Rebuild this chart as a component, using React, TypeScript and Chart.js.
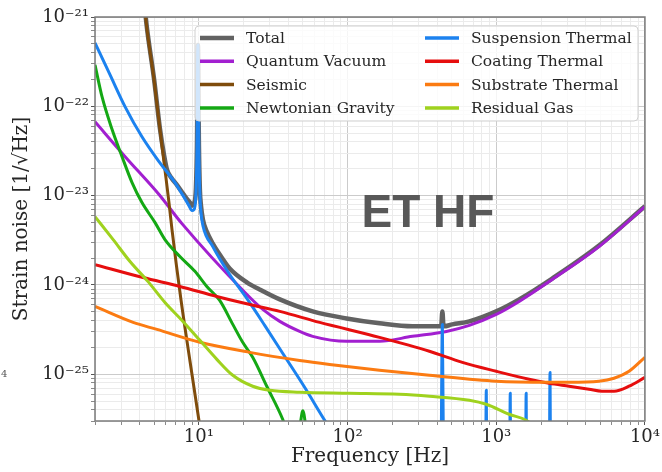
import React, { useEffect, useRef } from 'react';
import { Chart, registerables } from 'chart.js';

Chart.register(...registerables);

// ---------- data (frequency in Hz, strain noise in 1/sqrt(Hz)) ----------
const X_MIN = 2;
const X_MAX = 1e4;
const Y_MIN = 3e-26;
const Y_MAX = 1e-21;

const totalFreq = [4.21, 4.48, 4.99, 5.47, 5.82, 6.10, 6.59, 7.01, 7.57, 8.18, 8.71, 8.98, 9.26, 9.55, 9.70, 9.85, 10.0, 10.15, 10.31, 10.64, 11.3, 12.4, 13.8, 16.1, 21.0, 25.6, 35.0, 58.2, 98.5, 164, 273, 426, 434, 442, 507, 659, 1000, 1426, 2377, 4911, 10000];
const totalNoise = [1.9e-21, 7.34e-22, 2.03e-22, 5.61e-23, 2.87e-23, 1.95e-23, 1.55e-23, 1.36e-23, 1.14e-23, 9.50e-24, 8.36e-24, 7.73e-24, 8.14e-24, 1.23e-23, 3.71e-23, 4.87e-22, 3.71e-23, 1.17e-23, 7.93e-24, 5.39e-24, 3.96e-24, 2.91e-24, 2.19e-24, 1.53e-24, 1.07e-24, 8.91e-25, 6.89e-25, 5.06e-25, 4.22e-25, 3.72e-25, 3.44e-25, 3.44e-25, 5.06e-25, 3.44e-25, 3.62e-25, 3.91e-25, 5.06e-25, 6.89e-25, 1.18e-24, 2.76e-24, 7.6e-24];

const quantumFreq = [2.00, 3.19, 5.39, 7.69, 20.4, 26.9, 35.0, 47.6, 58.2, 98.5, 164, 273, 462, 659, 1000, 1426, 2377, 4911, 10000];
const quantumNoise = [6.71e-23, 2.73e-23, 1.03e-23, 4.86e-24, 8.24e-25, 5.32e-25, 3.91e-25, 3.02e-25, 2.66e-25, 2.34e-25, 2.34e-25, 2.66e-25, 3.02e-25, 3.53e-25, 4.68e-25, 6.54e-25, 1.15e-24, 2.69e-24, 7.53e-24];

const seismicFreq = [4.21, 4.48, 4.99, 5.47, 5.91, 6.29, 6.59, 7.57, 8.71, 10.0, 10.64];
const seismicNoise = [1.9e-21, 7.16e-22, 1.98e-22, 5.46e-23, 1.95e-23, 8.36e-24, 4.17e-24, 6.89e-25, 1.40e-25, 3.06e-26, 1.61e-26];

const newtonFreq = [2.00, 2.23, 2.61, 3.04, 3.55, 4.14, 5.07, 5.91, 7.45, 9.40, 11.3, 13.8, 16.9, 19.7, 23.0, 28.6, 36.6, 42.1, 47.5, 50.0, 52.5, 60.0];
const newtonNoise = [2.91e-22, 1.28e-22, 5.46e-23, 2.73e-23, 1.40e-23, 8.36e-24, 4.99e-24, 3.22e-24, 2.08e-24, 1.42e-24, 9.62e-25, 6.71e-25, 3.62e-25, 2.28e-25, 1.55e-25, 7.35e-26, 3.14e-26, 1.65e-26, 2.5e-26, 3.9e-26, 2.5e-26, 5e-27];

const suspFreq = [2.00, 2.49, 3.19, 4.14, 5.39, 6.90, 8.57, 8.98, 9.26, 9.55, 9.70, 9.85, 10.0, 10.15, 10.31, 10.64, 12.4, 16.1, 21.0, 27.7, 36.6, 51.4, 70.1, 95.5, 420, 434, 448, 840, 857, 875, 1220, 1242, 1265, 1560, 1589, 1620, 2250, 2300, 2350, 10000];
const suspNoise = [5.12e-22, 2.37e-22, 9.87e-23, 4.56e-23, 2.40e-23, 1.40e-23, 7.73e-24, 6.80e-24, 6.98e-24, 1.03e-23, 3.27e-23, 4.87e-22, 3.27e-23, 1.03e-23, 6.62e-24, 4.62e-24, 2.69e-24, 1.31e-24, 7.07e-25, 3.53e-25, 1.72e-25, 7.16e-26, 3.06e-26, 1.38e-26, 8e-28, 3.62e-25, 8e-28, 3e-28, 6.62e-26, 3e-28, 2e-28, 6.14e-26, 2e-28, 1.5e-28, 6.14e-26, 1.5e-28, 1e-28, 1.05e-25, 1e-28, 1e-29];

const coatingFreq = [2.00, 4.21, 7.45, 13.2, 22.0, 35.0, 64.9, 164, 355, 592, 1000, 1663, 2270, 3090, 4207, 5140, 6196, 7818, 10000];
const coatingNoise = [1.69e-24, 1.21e-24, 9.62e-25, 7.44e-25, 6.05e-25, 5.06e-25, 3.81e-25, 2.59e-25, 1.81e-25, 1.36e-25, 1.08e-25, 8.79e-26, 7.93e-26, 7.35e-26, 6.80e-26, 6.46e-26, 6.46e-26, 7.35e-26, 9.25e-26];

const substrateFreq = [2.00, 3.61, 5.22, 10.15, 22.0, 47.6, 75.7, 164, 355, 1000, 2270, 3090, 4911, 6196, 7818, 10000];
const substrateNoise = [5.75e-25, 3.81e-25, 3.18e-25, 2.28e-25, 1.76e-25, 1.43e-25, 1.29e-25, 1.11e-25, 9.75e-26, 8.35e-26, 8.14e-26, 8.14e-26, 8.35e-26, 9.02e-26, 1.08e-25, 1.55e-25];

const gasFreq = [2.00, 2.65, 3.44, 4.55, 5.91, 7.81, 10.15, 13.2, 16.9, 23.0, 30.0, 47.6, 103, 223, 355, 659, 857, 1222, 1589, 2099];
const gasNoise = [5.82e-24, 3.22e-24, 1.83e-24, 1.09e-24, 6.37e-25, 3.91e-25, 2.40e-25, 1.47e-25, 9.75e-26, 7.35e-26, 6.62e-26, 6.30e-26, 6.14e-26, 5.98e-26, 5.68e-26, 5.12e-26, 4.62e-26, 3.57e-26, 3.06e-26, 2.14e-26];

const seriesNames = ['Total', 'Quantum Vacuum', 'Seismic', 'Newtonian Gravity', 'Suspension Thermal', 'Coating Thermal', 'Substrate Thermal', 'Residual Gas'];
const seriesColors = ['#626262', '#a21fd0', '#7f4c0c', '#14a814', '#1c82ef', '#e60e0e', '#fb7b12', '#9fd21e'];
const seriesWidths = [4.5, 3, 3, 3, 3, 3, 3, 3];
const seriesFreqs = [totalFreq, quantumFreq, seismicFreq, newtonFreq, suspFreq, coatingFreq, substrateFreq, gasFreq];
const seriesValues = [totalNoise, quantumNoise, seismicNoise, newtonNoise, suspNoise, coatingNoise, substrateNoise, gasNoise];

const xTitle = 'Frequency [Hz]';
const yTitle = 'Strain noise [1/\u221AHz]';
const annotationText = 'ET HF';
const annotationFreq = 124;
const annotationNoise = 4.5e-24;

// ---------- helpers ----------
const SUP: Record<string, string> = {
  '-': '\u207B', '0': '\u2070', '1': '\u00B9', '2': '\u00B2', '3': '\u00B3',
  '4': '\u2074', '5': '\u2075', '6': '\u2076', '7': '\u2077', '8': '\u2078', '9': '\u2079',
};
const sup = (n: number) => String(n).split('').map((c) => SUP[c] || c).join('');

function buildLogTicks(scale: any) {
  const min = scale.min;
  const max = scale.max;
  const ticks: any[] = [];
  const d0 = Math.floor(Math.log10(min));
  const d1 = Math.ceil(Math.log10(max));
  for (let d = d0; d <= d1; d++) {
    for (let m = 1; m <= 9; m++) {
      const v = m * Math.pow(10, d);
      if (v >= min * 0.9999 && v <= max * 1.0001) ticks.push({ value: v, major: m === 1 });
    }
  }
  scale.ticks = ticks;
}

const tickLabel = (value: any, index: number, ticks: any[]) => {
  const t = ticks[index];
  if (!t || !t.major) return '';
  return '10' + sup(Math.round(Math.log10(Number(value))));
};

const gridColor = (ctx: any) => (ctx.tick && ctx.tick.major ? '#cbcbcb' : '#ebebeb');
const tickColor = (ctx: any) => (ctx.tick && ctx.tick.major ? '#555555' : '#8a8a8a');

const SERIF = '"DejaVu Serif", "Liberation Serif", serif';

const overlayPlugin = {
  id: 'overlay',
  afterDatasetsDraw(chart: any) {
    const { ctx, chartArea: a, scales } = chart;
    ctx.save();
    // frame
    ctx.strokeStyle = '#7a7a7a';
    ctx.lineWidth = 1.5;
    ctx.strokeRect(a.left, a.top, a.right - a.left, a.bottom - a.top);

    // annotation
    const ax = scales.x.getPixelForValue(annotationFreq);
    const ay = scales.y.getPixelForValue(annotationNoise);
    ctx.fillStyle = '#585858';
    ctx.font = 'bold 46px "Liberation Sans", Arial, sans-serif';
    ctx.textAlign = 'left';
    ctx.textBaseline = 'alphabetic';
    ctx.fillText(annotationText, ax, ay);

    // legend
    const lx = a.left + 100;
    const ly = a.top + 9;
    const lw = 443;
    const lh = 95;
    const r = 4;
    ctx.beginPath();
    ctx.moveTo(lx + r, ly);
    ctx.lineTo(lx + lw - r, ly);
    ctx.arcTo(lx + lw, ly, lx + lw, ly + r, r);
    ctx.lineTo(lx + lw, ly + lh - r);
    ctx.arcTo(lx + lw, ly + lh, lx + lw - r, ly + lh, r);
    ctx.lineTo(lx + r, ly + lh);
    ctx.arcTo(lx, ly + lh, lx, ly + lh - r, r);
    ctx.lineTo(lx, ly + r);
    ctx.arcTo(lx, ly, lx + r, ly, r);
    ctx.closePath();
    ctx.fillStyle = 'rgba(255,255,255,0.8)';
    ctx.fill();
    ctx.strokeStyle = '#d0d0d0';
    ctx.lineWidth = 1;
    ctx.stroke();

    ctx.font = '15.5px ' + SERIF;
    ctx.textBaseline = 'middle';
    ctx.textAlign = 'left';
    ctx.lineCap = 'butt';
    const colX = [lx + 5, lx + 230];
    for (let i = 0; i < seriesNames.length; i++) {
      const col = Math.floor(i / 4);
      const row = i % 4;
      const x = colX[col];
      const y = ly + 12 + row * 23.3;
      ctx.strokeStyle = seriesColors[i];
      ctx.lineWidth = i === 0 ? 4.5 : 3.5;
      ctx.beginPath();
      ctx.moveTo(x, y);
      ctx.lineTo(x + 34, y);
      ctx.stroke();
      ctx.fillStyle = '#262626';
      ctx.fillText(seriesNames[i], x + 46, y + 1);
    }

    // clipped stray label at the far left edge
    ctx.fillStyle = '#555555';
    ctx.font = '10px ' + SERIF;
    ctx.textAlign = 'left';
    ctx.textBaseline = 'alphabetic';
    ctx.fillText('4', 1, scales.y.getPixelForValue(1e-25) + 3);
    ctx.restore();
  },
};

export default function App() {
  const canvasRef = useRef<HTMLCanvasElement | null>(null);

  useEffect(() => {
    const canvas = canvasRef.current;
    if (!canvas) return;
    const datasets = seriesNames.map((name, i) => ({
      label: name,
      data: seriesFreqs[i].map((f, k) => ({ x: f, y: seriesValues[i][k] })),
      borderColor: seriesColors[i],
      backgroundColor: seriesColors[i],
      borderWidth: seriesWidths[i],
      pointRadius: 0,
      pointHoverRadius: 0,
      cubicInterpolationMode: 'monotone' as const,
      fill: false,
      borderJoinStyle: 'round' as const,
      borderCapStyle: 'butt' as const,
      clip: 0,
      order: seriesNames.length - i,
    }));

    const chart = new Chart(canvas, {
      type: 'line',
      data: { datasets },
      options: {
        responsive: false,
        animation: false,
        devicePixelRatio: 1,
        parsing: false as any,
        normalized: true,
        layout: { padding: { left: 0, right: 16, top: 17, bottom: 0 } },
        plugins: {
          legend: { display: false },
          tooltip: { enabled: false },
        },
        events: [],
        scales: {
          x: {
            type: 'logarithmic',
            min: X_MIN,
            max: X_MAX,
            afterBuildTicks: buildLogTicks,
            afterFit: (scale: any) => { scale.height = 51; },
            border: { display: false },
            grid: { color: gridColor, lineWidth: 1, tickLength: 4, tickColor: tickColor, drawTicks: true },
            ticks: {
              autoSkip: false,
              maxRotation: 0,
              minRotation: 0,
              padding: 2,
              color: '#262626',
              font: { family: SERIF, size: 18 },
              callback: tickLabel,
            },
            title: {
              display: true,
              text: xTitle,
              color: '#262626',
              font: { family: SERIF, size: 20 },
              padding: { top: 0, bottom: 3 },
            },
          },
          y: {
            type: 'logarithmic',
            min: Y_MIN,
            max: Y_MAX,
            afterBuildTicks: buildLogTicks,
            afterFit: (scale: any) => { scale.width = 95; },
            border: { display: false },
            grid: { color: gridColor, lineWidth: 1, tickLength: 4, tickColor: tickColor, drawTicks: true },
            ticks: {
              autoSkip: false,
              padding: 2,
              color: '#262626',
              font: { family: SERIF, size: 18 },
              callback: tickLabel,
            },
            title: {
              display: true,
              text: yTitle,
              color: '#262626',
              font: { family: SERIF, size: 20 },
              padding: { top: 10, bottom: 0 },
            },
          },
        },
      },
      plugins: [overlayPlugin],
    } as any);

    return () => chart.destroy();
  }, []);

  return (
    <div style={{ position: 'absolute', left: 0, top: 0, width: 662, height: 472, background: '#ffffff' }}>
      <canvas ref={canvasRef} width={662} height={472} style={{ display: 'block' }} />
    </div>
  );
}
